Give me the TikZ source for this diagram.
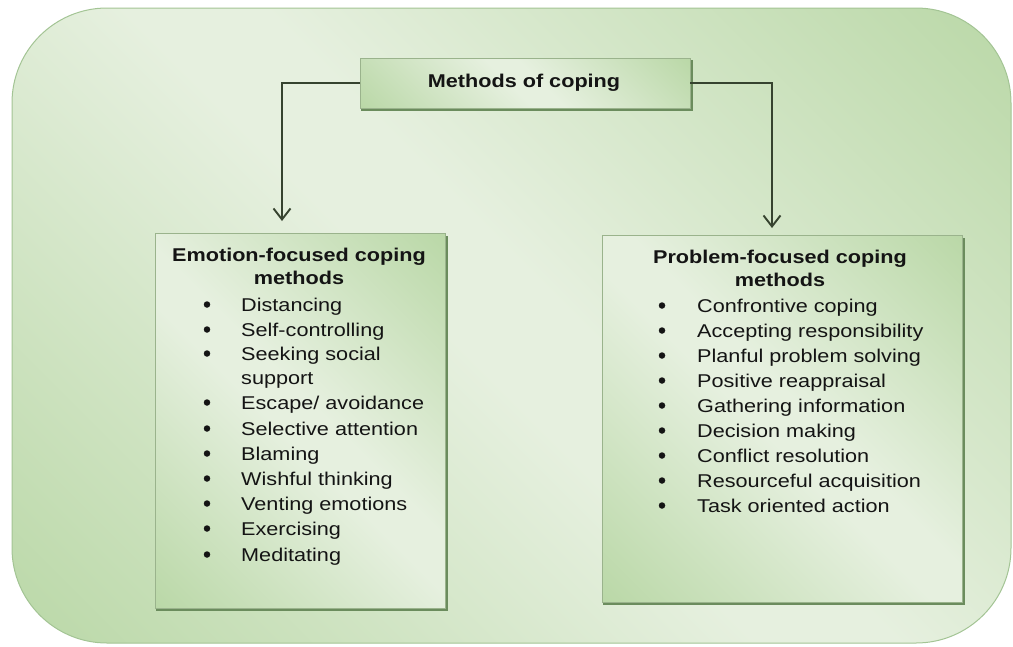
\documentclass[tikz,border=0pt]{standalone}
\usepackage{fontspec}
\setmainfont{Liberation Sans}[FakeStretch=1.17]
\usetikzlibrary{arrows.meta}

\definecolor{gdeep}{HTML}{A6CD8E}
\definecolor{glight}{HTML}{E6F0DF}
\definecolor{rim}{HTML}{A3C494}
\definecolor{boxline}{HTML}{9AB38C}
\definecolor{shadowc}{HTML}{6B8C5D}
\definecolor{linkc}{HTML}{36432F}
\definecolor{inkc}{HTML}{141414}

% green at two opposite corners, pale along the other diagonal
\pgfdeclarehorizontalshading{greenx}{100bp}{color(0bp)=(gdeep); color(47bp)=(glight); color(53bp)=(glight); color(100bp)=(gdeep)}

\tikzset{
  panel/.style={shading=greenx, shading angle=45, draw=boxline, line width=0.8pt,
    inner sep=0pt, outer sep=0pt},
  shadowedge/.style={draw=shadowc, line width=2.2pt},
  conn/.style={draw=linkc, line width=1.9pt, -{Straight Barb[length=11pt,width=17pt,line width=1.9pt]}},
  head/.style={inner sep=0pt, anchor=base, text=inkc, font=\fontsize{18.5}{24}\selectfont\bfseries},
  itemtext/.style={inner sep=0pt, anchor=base west, text=inkc, font=\fontsize{18.5}{25}\selectfont},
  dot/.style={circle, fill=inkc, inner sep=0pt, minimum size=6.5pt},
}

\begin{document}
\begin{tikzpicture}[x=1pt,y=-1pt]
\useasboundingbox (0,0) rectangle (1013,646);

% rounded backdrop
\path[shading=greenx, shading angle=45, draw=rim, line width=1pt, rounded corners=95pt]
  (12,8) rectangle (1011,643);

% title box
\node[panel, minimum width=330pt, minimum height=50pt] (title) at (525,83) {};
\draw[shadowedge] ([shift={(2,2)}]title.north east) -- ([shift={(2,2)}]title.south east) -- ([shift={(1,2)}]title.south west);
\node[head] (titletext) at (524,87) {Methods of coping};

% emotion-focused box
\node[panel, minimum width=290pt, minimum height=375pt] (emo) at (300,420.5) {};
\draw[shadowedge] ([shift={(2,3)}]emo.north east) -- ([shift={(2,2)}]emo.south east) -- ([shift={(1,2)}]emo.south west);
\node[head] (emoh1) at (299,261) {Emotion-focused coping};
\node[head] (emoh2) at (299,284) {methods};

% problem-focused box
\node[panel, minimum width=360pt, minimum height=367pt] (prob) at (782,418.5) {};
\draw[shadowedge] ([shift={(2,3)}]prob.north east) -- ([shift={(2,2)}]prob.south east) -- ([shift={(1,2)}]prob.south west);
\node[head] (probh1) at (780,263) {Problem-focused coping};
\node[head] (probh2) at (780,286) {methods};

% emotion-focused items
\foreach \txt/\yy/\hasdot [count=\i] in {
  Distancing/311/1, Self-controlling/336/1, Seeking social/360/1, support/384/0,
  {Escape/ avoidance}/409/1, Selective attention/435/1, Blaming/460/1,
  Wishful thinking/485/1, Venting emotions/510/1, Exercising/535/1, Meditating/561/1} {
  \node[itemtext] (emoi\i) at (241,\yy) {\txt};
  \ifnum\hasdot=1 \node[dot] (emob\i) at (207,\yy-6.5) {}; \fi
}

% problem-focused items
\foreach \txt [count=\i] in {
  Confrontive coping, Accepting responsibility, Planful problem solving,
  Positive reappraisal, Gathering information, Decision making,
  Conflict resolution, Resourceful acquisition, Task oriented action} {
  \node[itemtext] (probi\i) at (697,287+25*\i) {\txt};
  \node[dot] (probb\i) at (662,280.5+25*\i) {};
}

% connectors
\coordinate (emotip) at (282,221);
\coordinate (probtip) at (772,228);
\draw[conn] (title.west) -| (emotip);
\draw[conn] (title.east) -| (probtip);
\end{tikzpicture}
\end{document}
